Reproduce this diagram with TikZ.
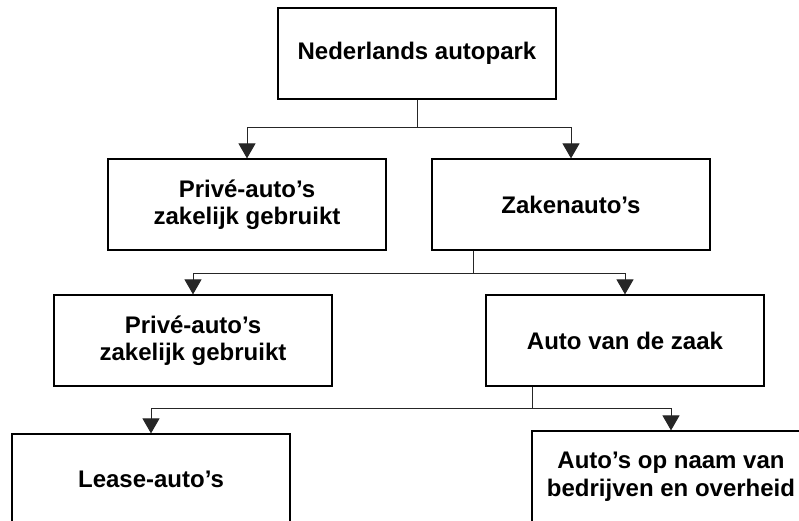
\documentclass[tikz,border=0pt]{standalone}
\usepackage{fontspec}
\setmainfont{Liberation Sans}
\usetikzlibrary{arrows.meta}
\tikzset{
  box/.style={draw=black, line width=1.2pt, minimum width=278pt, minimum height=91pt,
    align=center, inner sep=0pt, font=\fontsize{24}{27.5}\selectfont\bfseries},
  conn/.style={draw=black!85, line width=1pt, -{Triangle[length=15pt,width=17pt]}},
}
\begin{document}
\begin{tikzpicture}[x=1pt,y=-1pt]
\useasboundingbox (0,0) rectangle (799,521);
\clip (0,0) rectangle (799,521);
\fill[white] (0,0) rectangle (799,521);
\node[box] (top) at (417,53.5) {Nederlands autopark};
\node[box] (p1) at (247,204.5) {Privé-auto’s\\zakelijk gebruikt};
\node[box] (z) at (571,204.5) {Zakenauto’s};
\node[box] (p2) at (193,340.5) {Privé-auto’s\\zakelijk gebruikt};
\node[box] (a) at (625,340.5) {Auto van de zaak};
\node[box] (l) at (151,479.5) {Lease-auto’s};
\node[box] (o) at (671,476.5) {Auto’s op naam van\\bedrijven en overheid};
\draw[conn] (top.south) -- ++(0,28) -| (p1.north);
\draw[conn] (top.south) -- ++(0,28) -| (z.north);
\draw[conn] (z.south west) ++(42,0) -- ++(0,23) -| (p2.north);
\draw[conn] (z.south west) ++(42,0) -- ++(0,23) -| (a.north);
\draw[conn] (a.south west) ++(47,0) -- ++(0,22) -| (l.north);
\draw[conn] (a.south west) ++(47,0) -- ++(0,22) -| (o.north);
\end{tikzpicture}
\end{document}
